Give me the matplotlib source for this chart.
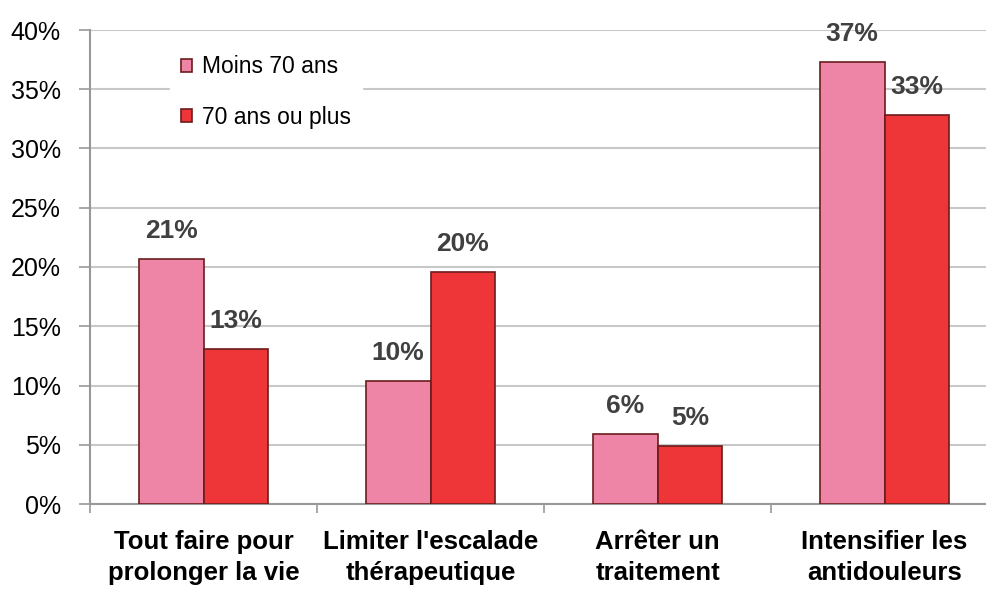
import numpy as np
import matplotlib.pyplot as plt
from matplotlib.ticker import FuncFormatter

# -----------------------
# Data
# -----------------------
categories = [
    "Tout faire pour\nprolonger la vie",
    "Limiter l'escalade\nthérapeutique",
    "Arrêter un\ntraitement",
    "Intensifier les\nantidouleurs",
]
moins_70 = [20.7, 10.4, 5.9, 37.3]
plus_70 = [13.1, 19.6, 4.9, 32.8]
labels_moins = ["21%", "10%", "6%", "37%"]
labels_plus = ["13%", "20%", "5%", "33%"]

PINK = "#EE85A6"
RED = "#EE3538"
EDGE = "#6B1C1C"
GRID = "#C8C8C8"
AXIS = "#999999"

plt.rcParams["font.family"] = ["Liberation Sans Narrow", "Liberation Sans", "DejaVu Sans"]

# -----------------------
# Plot
# -----------------------
fig = plt.figure(figsize=(9.86, 5.92), dpi=100)
# axes runs past the right edge, like the original
ax = fig.add_axes([90 / 986, 88 / 592, 908 / 986, (504 - 30) / 592])

x = np.arange(len(categories))
w = 0.286

bars1 = ax.bar(x - w / 2, moins_70, w, color=PINK, edgecolor=EDGE,
               linewidth=1.2, label="Moins 70 ans", zorder=3)
bars2 = ax.bar(x + w / 2, plus_70, w, color=RED, edgecolor=EDGE,
               linewidth=1.2, label="70 ans ou plus", zorder=3)

for bars, labs in [(bars1, labels_moins), (bars2, labels_plus)]:
    for b, t in zip(bars, labs):
        ax.text(b.get_x() + b.get_width() / 2, b.get_height() + 1.35, t,
                ha="center", va="bottom", fontsize=19, fontweight="bold",
                color="#404040")

ax.set_xlim(-0.5, len(categories) - 0.5)
ax.set_ylim(0, 40)
ax.set_yticks(np.arange(0, 41, 5))
ax.yaxis.set_major_formatter(FuncFormatter(lambda v, p: f"{v:.0f}%"))
ax.yaxis.grid(True, color=GRID, linewidth=1.5, zorder=0)
ax.set_axisbelow(True)

# category boundaries as ticks, names as minor tick labels
ax.set_xticks(np.arange(-0.5, len(categories) - 0.5, 1.0))
ax.set_xticklabels([])
ax.set_xticks(x, minor=True)
ax.set_xticklabels(categories, minor=True, fontsize=18.5, fontweight="bold",
                   linespacing=1.35)
ax.tick_params(axis="x", which="minor", length=0, pad=19)
ax.tick_params(axis="x", which="major", length=6.5, color=AXIS, width=1.2)
ax.tick_params(axis="y", length=8, color=AXIS, width=1.2,
               labelsize=18, pad=13)

for s in ["top", "right"]:
    ax.spines[s].set_visible(False)
for s in ["left", "bottom"]:
    ax.spines[s].set_color(AXIS)
    ax.spines[s].set_linewidth(1.5)

leg = ax.legend(loc="upper left", bbox_to_anchor=(0.075, 0.995), fontsize=16.5,
                frameon=True, handlelength=0.5, handleheight=0.5,
                handletextpad=0.4, labelspacing=1.19, borderpad=0.5)
leg.get_frame().set_edgecolor("white")
leg.get_frame().set_facecolor("white")
leg.get_frame().set_alpha(1)

plt.savefig("out.png", dpi=100, facecolor="white")
plt.close()
